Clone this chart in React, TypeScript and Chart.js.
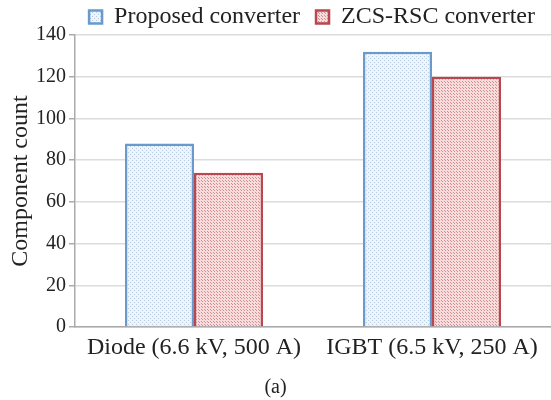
import React, { useEffect, useRef } from "react";
import { Chart, registerables } from "chart.js";

Chart.register(...registerables);

const categories = ["Diode (6.6 kV, 500 A)", "IGBT (6.5 kV, 250 A)"];
const proposed = [88, 132];
const zcsRsc = [74, 120];
const seriesNames = ["Proposed converter", "ZCS-RSC converter"];
const yTicks = [0, 20, 40, 60, 80, 100, 120, 140];
const caption = "(a)";

function makePattern(base: string, dot: string, step: number): CanvasPattern | string {
  const c = document.createElement("canvas");
  c.width = step;
  c.height = step;
  const g = c.getContext("2d");
  if (!g) return base;
  g.fillStyle = base;
  g.fillRect(0, 0, step, step);
  g.fillStyle = dot;
  g.fillRect(0, 0, 1, 1);
  g.fillRect(Math.floor(step / 2), Math.floor(step / 2), 1, 1);
  const p = g.createPattern(c, "repeat");
  return p || base;
}

export default function App() {
  const ref = useRef<HTMLCanvasElement | null>(null);
  useEffect(() => {
    document.body.style.margin = "0";
    const ctx = ref.current!.getContext("2d")!;
    const bluePat = makePattern("#edf4fb", "#b7cbe0", 4);
    const redPat = makePattern("#f6dcdc", "#d38f8f", 3);
    const font = "'Liberation Serif', 'Times New Roman', serif";
    const chart = new Chart(ctx, {
      type: "bar",
      data: {
        labels: categories,
        datasets: [
          {
            label: seriesNames[0],
            data: proposed,
            backgroundColor: bluePat as any,
            borderColor: "#6a9acb",
            borderWidth: 2.5,
            categoryPercentage: 0.58,
            barPercentage: 1,
          },
          {
            label: seriesNames[1],
            data: zcsRsc,
            backgroundColor: redPat as any,
            borderColor: "#b8474f",
            borderWidth: 2.5,
            categoryPercentage: 0.58,
            barPercentage: 1,
          },
        ],
      },
      options: {
        animation: false,
        responsive: false,
        layout: { padding: { top: -11, right: 0, left: 0, bottom: 0 } },
        plugins: {
          legend: {
            position: "top",
            align: "end",
            maxHeight: 46,
            labels: {
              font: { family: font, size: 24 },
              color: "#222",
              boxWidth: 13,
              boxHeight: 13,
              padding: 16,
            },
          },
          title: {
            display: true,
            position: "bottom",
            text: caption,
            font: { family: font, size: 20, weight: "normal" },
            color: "#222",
            padding: { top: 0, bottom: 0 },
          },
          tooltip: { enabled: false },
        },
        scales: {
          x: {
            grid: { display: false, drawTicks: false },
            border: { color: "#aaaaaa", width: 1.5 },
            ticks: { font: { family: font, size: 24 }, color: "#222", padding: 6 },
            afterFit: (s: any) => {
              s.height = 49;
            },
          },
          y: {
            min: 0,
            max: 140,
            afterBuildTicks: (s: any) => {
              s.ticks = yTicks.map((v) => ({ value: v }));
            },
            grid: { color: "#dcdcdc", lineWidth: 1.5, tickLength: 6, tickColor: "#aaaaaa" },
            border: { color: "#aaaaaa", width: 1.5 },
            ticks: { font: { family: font, size: 20 }, color: "#222", padding: 3 },
            title: {
              display: true,
              text: "Component count",
              font: { family: font, size: 24 },
              color: "#222",
              padding: { top: 6, bottom: 2 },
            },
            afterFit: (s: any) => {
              s.width = 75;
            },
          },
        },
      },
    });
    return () => chart.destroy();
  }, []);
  return (
    <div style={{ position: "absolute", left: 0, top: 0, width: 551, height: 400, background: "#fff" }}>
      <canvas ref={ref} width={551} height={400} style={{ display: "block" }} />
    </div>
  );
}
